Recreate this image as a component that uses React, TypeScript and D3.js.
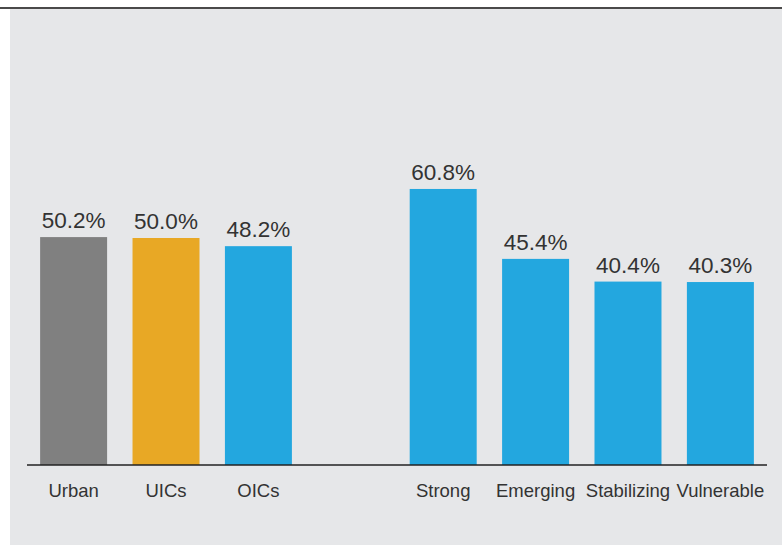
import React from 'react';
import * as d3 from 'd3';

const categories = ['Urban', 'UICs', 'OICs', '', 'Strong', 'Emerging', 'Stabilizing', 'Vulnerable'];
const values = [50.2, 50.0, 48.2, null, 60.8, 45.4, 40.4, 40.3];
const barColors = ['#808080', '#E8A825', '#23A7DF', 'none', '#23A7DF', '#23A7DF', '#23A7DF', '#23A7DF'];

const W = 782;
const H = 545;
const baseY = 465;

const App = () => {
  const slots = categories.map((c, i) => `s${i}`);
  const x = d3.scaleBand<string>().domain(slots).range([27, 767]).paddingInner(0.275).paddingOuter(0.142);
  const y = d3.scaleLinear().domain([0, 100]).range([baseY, 11]);
  const font = '"Liberation Sans", Arial, sans-serif';

  return (
    <svg width={W} height={H} style={{ position: 'absolute', left: 0, top: 0 }}>
      <rect x={10} y={8} width={W - 10} height={H - 8} fill="#E6E7E9" />
      <line x1={0} x2={W} y1={8} y2={8} stroke="#4a4a4a" strokeWidth={2} />
      {values.map((v, i) =>
        v == null ? null : (
          <g key={slots[i]}>
            <rect x={x(slots[i])} y={y(v)} width={x.bandwidth()} height={baseY - y(v)} fill={barColors[i]} />
            <text
              x={(x(slots[i]) as number) + x.bandwidth() / 2}
              y={y(v) - 9}
              textAnchor="middle"
              fontFamily={font}
              fontSize={22.5}
              fill="#333"
            >
              {d3.format('.1f')(v)}%
            </text>
            <text
              x={(x(slots[i]) as number) + x.bandwidth() / 2}
              y={497}
              textAnchor="middle"
              fontFamily={font}
              fontSize={18.5}
              fill="#333"
            >
              {categories[i]}
            </text>
          </g>
        )
      )}
      <line x1={27} x2={767} y1={baseY} y2={baseY} stroke="#222" strokeWidth={1.5} />
    </svg>
  );
};

export default App;
